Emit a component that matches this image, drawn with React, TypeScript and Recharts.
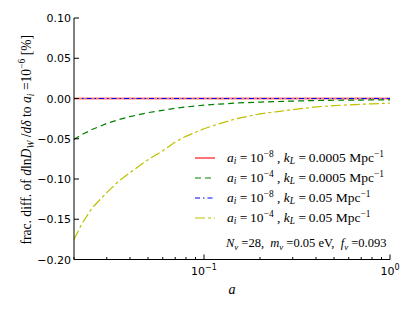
import React from 'react';
import { LineChart, Line, XAxis, YAxis, Legend } from 'recharts';

// ---------- data ----------
const aValues = [0.02, 0.022, 0.025, 0.03, 0.035, 0.04, 0.05, 0.06, 0.07, 0.08, 0.1, 0.12, 0.15, 0.2, 0.25, 0.3, 0.4, 0.5, 0.6, 0.7, 0.8, 1.0];
const redLowK = [0, 0, 0, 0, 0, 0, 0, 0, 0, 0, 0, 0, 0, 0, 0, 0, 0, 0, 0, 0, 0, 0];
const greenLowK = [-0.051, -0.045, -0.0385, -0.031, -0.026, -0.0225, -0.0175, -0.0147, -0.012, -0.0105, -0.0083, -0.007, -0.0056, -0.0044, -0.0037, -0.0032, -0.0025, -0.0022, -0.002, -0.0019, -0.0018, -0.0016];
const blueHighK = [0, 0, 0, 0, 0, 0, 0, 0, 0, 0, 0, 0, 0, 0, 0, 0, 0, 0, 0, 0, 0, 0];
const yellowHighK = [-0.175, -0.156, -0.136, -0.117, -0.102, -0.092, -0.076, -0.065, -0.054, -0.047, -0.0375, -0.0315, -0.025, -0.019, -0.0162, -0.0138, -0.0105, -0.0088, -0.0079, -0.0072, -0.0066, -0.0058];

const legendAiExp = ['\u22128', '\u22124', '\u22128', '\u22124'];
const legendKL = ['0.0005', '0.0005', '0.05', '0.05'];

const xMajorTicks = [0.1, 1];
const xMajorExp = ['\u22121', '0'];
const xMinorTicks = [0.02, 0.03, 0.04, 0.05, 0.06, 0.07, 0.08, 0.09, 0.2, 0.3, 0.4, 0.5, 0.6, 0.7, 0.8, 0.9];
const yTicks = [-0.2, -0.15, -0.1, -0.05, 0, 0.05, 0.1];

const data = aValues.map((a, i) => ({
  a,
  r: redLowK[i],
  g: greenLowK[i],
  b: blueHighK[i],
  y: yellowHighK[i],
}));

// ---------- styles ----------
const SANS = 'DejaVu Sans';
const SERIF = 'Liberation Serif';
const MAJOR_LEN = 5;
const MINOR_LEN = 2.5;

const seriesStyles = [
  { key: 'r', color: '#ff0000', dash: undefined as string | undefined, width: 2, opacity: 0.55 },
  { key: 'g', color: '#008000', dash: '6 4', width: 1.2, opacity: 1 },
  { key: 'b', color: '#0000ff', dash: '5 3 1.5 3', width: 1.2, opacity: 1 },
  { key: 'y', color: '#bfbf00', dash: '10 3 3 3', width: 1.2, opacity: 1 },
];

const allXTicks = [...xMinorTicks, ...xMajorTicks].sort((p, q) => p - q);

const fmtY = (v: number) => {
  const s = Math.abs(v).toFixed(2);
  return v < 0 ? '\u2212' + s : s;
};

const BottomTick = (props: any) => {
  const { x, y, payload } = props;
  const idx = xMajorTicks.indexOf(payload.value);
  const major = idx >= 0;
  return (
    <g>
      <line x1={x} x2={x} y1={y} y2={y - (major ? MAJOR_LEN : MINOR_LEN)} stroke="#000" strokeWidth={1} />
      {major && (
        <text x={x} y={y + 15} textAnchor="middle" fontFamily={SANS} fontSize={11} fill="#000">
          10
          <tspan dy={-5} fontSize={8}>{xMajorExp[idx]}</tspan>
        </text>
      )}
    </g>
  );
};

const TopTick = (props: any) => {
  const { x, y, payload } = props;
  const major = xMajorTicks.indexOf(payload.value) >= 0;
  return <line x1={x} x2={x} y1={y} y2={y + (major ? MAJOR_LEN : MINOR_LEN)} stroke="#000" strokeWidth={1} />;
};

const LeftTick = (props: any) => {
  const { x, y, payload } = props;
  return (
    <g>
      <line x1={x} x2={x + MAJOR_LEN} y1={y} y2={y} stroke="#000" strokeWidth={1} />
      <text x={x - 3} y={y + 4} textAnchor="end" fontFamily={SANS} fontSize={11} fill="#000">
        {fmtY(payload.value)}
      </text>
    </g>
  );
};

const RightTick = (props: any) => {
  const { x, y } = props;
  return <line x1={x - 1} x2={x - 1 - MAJOR_LEN} y1={y} y2={y} stroke="#000" strokeWidth={1} />;
};

const XLabel = (props: any) => {
  const vb = props.viewBox || { x: 74, y: 259.5, width: 316, height: 50 };
  return (
    <text x={vb.x + vb.width / 2} y={vb.y + 34} textAnchor="middle" fontFamily={SERIF} fontStyle="italic" fontSize={14} fill="#000">
      a
    </text>
  );
};

const YLabel = (props: any) => {
  const vb = props.viewBox || { x: 0, y: 18, width: 74, height: 241.5 };
  const cx = 31;
  const cy = vb.y + vb.height / 2 + 1;
  const it = { fontStyle: 'italic' as const };
  return (
    <text
      x={cx}
      y={cy}
      transform={`rotate(-90 ${cx} ${cy})`}
      textAnchor="middle"
      fontFamily={SERIF}
      fontSize={13.6}
      fill="#000"
      style={{ whiteSpace: 'pre' }}
    >
      <tspan>frac. diff. of </tspan>
      <tspan {...it}>d</tspan>
      <tspan>ln</tspan>
      <tspan {...it}>D</tspan>
      <tspan {...it} fontSize={9.5} dy={3}>W</tspan>
      <tspan dy={-3}> /</tspan>
      <tspan {...it}>d</tspan>
      <tspan {...it}>δ</tspan>
      <tspan> to </tspan>
      <tspan {...it}>a</tspan>
      <tspan {...it} fontSize={9.5} dy={3}>i</tspan>
      <tspan dy={-3}> =10</tspan>
      <tspan fontSize={9.5} dy={-6}>{'\u22126'}</tspan>
      <tspan dy={6}> [%]</tspan>
    </text>
  );
};

const subStyle: React.CSSProperties = { fontSize: '0.7em', fontStyle: 'italic', position: 'relative', top: '0.3em' };
const supStyle: React.CSSProperties = { fontSize: '0.7em', position: 'relative', top: '-0.45em' };

const LegendContent = (props: any) => {
  const payload: any[] = props.payload || [];
  return (
    <div style={{ position: 'relative', width: 215, height: 110, fontFamily: SERIF, color: '#000', lineHeight: '20px' }}>
      {seriesStyles.map((st, i) => {
        const entry = payload.find((p) => p.dataKey === st.key) || {};
        return (
          <div key={st.key} style={{ position: 'absolute', left: 0, top: i * 20, height: 20, display: 'flex', alignItems: 'center', whiteSpace: 'nowrap', fontSize: 13.5 }}>
            <svg width={20} height={6} style={{ marginLeft: 5, marginRight: 12, display: 'block' }}>
              <line x1={0} y1={3} x2={20} y2={3} stroke={entry.color || st.color} strokeWidth={st.width} strokeOpacity={st.opacity} strokeDasharray={st.dash} />
            </svg>
            <span>
              <i>a</i>
              <span style={subStyle}>i</span> ={'\u2009'}10<span style={supStyle}>{legendAiExp[i]}</span> , <i>k</i>
              <span style={subStyle}>L</span> ={'\u2009'}{legendKL[i]} Mpc<span style={supStyle}>{'\u22121'}</span>
            </span>
          </div>
        );
      })}
      <div style={{ position: 'absolute', left: 36, top: 85, height: 20, whiteSpace: 'pre', fontSize: 12.5 }}>
        <i>N</i>
        <span style={subStyle}>ν</span>{' =28,  '}<i>m</i>
        <span style={subStyle}>ν</span>{' =0.05 eV,  '}<i>f</i>
        <span style={subStyle}>ν</span>{' =0.093'}
      </div>
    </div>
  );
};

export default function App() {
  return (
    <div style={{ position: 'absolute', left: 0, top: 0, width: 414, height: 310, background: '#fff' }}>
      <LineChart width={414} height={310} data={data} margin={{ top: 18, right: 24, bottom: 0, left: 0 }}>
        <XAxis
          dataKey="a"
          type="number"
          scale="log"
          domain={[0.02, 1]}
          allowDataOverflow
          ticks={allXTicks}
          interval={0}
          height={50.5}
          tickSize={0}
          tickMargin={0}
          tickLine={false}
          axisLine={{ stroke: '#000', strokeWidth: 1 }}
          tick={<BottomTick />}
          label={<XLabel />}
        />
        <XAxis
          xAxisId="top"
          orientation="top"
          dataKey="a"
          type="number"
          scale="log"
          domain={[0.02, 1]}
          allowDataOverflow
          ticks={allXTicks}
          interval={0}
          height={0}
          tickSize={0}
          tickMargin={0}
          tickLine={false}
          axisLine={{ stroke: '#000', strokeWidth: 1 }}
          tick={<TopTick />}
        />
        <YAxis
          type="number"
          domain={[-0.2, 0.1]}
          allowDataOverflow
          ticks={yTicks}
          interval={0}
          width={74}
          tickSize={0}
          tickMargin={0}
          tickLine={false}
          axisLine={{ stroke: '#000', strokeWidth: 1 }}
          tick={<LeftTick />}
          label={<YLabel />}
        />
        <YAxis
          yAxisId="right"
          orientation="right"
          type="number"
          domain={[-0.2, 0.1]}
          allowDataOverflow
          ticks={yTicks}
          interval={0}
          width={0}
          tickSize={0}
          tickMargin={0}
          tickLine={false}
          axisLine={{ stroke: '#808080', strokeWidth: 2 }}
          tick={<RightTick />}
        />
        {seriesStyles.map((s) => (
          <Line
            key={s.key}
            dataKey={s.key}
            type="linear"
            stroke={s.color}
            strokeWidth={s.width}
            strokeOpacity={s.opacity}
            strokeDasharray={s.dash}
            dot={false}
            activeDot={false}
            isAnimationActive={false}
          />
        ))}
        <Legend
          layout="vertical"
          align="center"
          verticalAlign="middle"
          width={215}
          height={110}
          wrapperStyle={{ left: 190, top: 148, width: 215, height: 110 }}
          content={<LegendContent />}
        />
      </LineChart>
    </div>
  );
}
